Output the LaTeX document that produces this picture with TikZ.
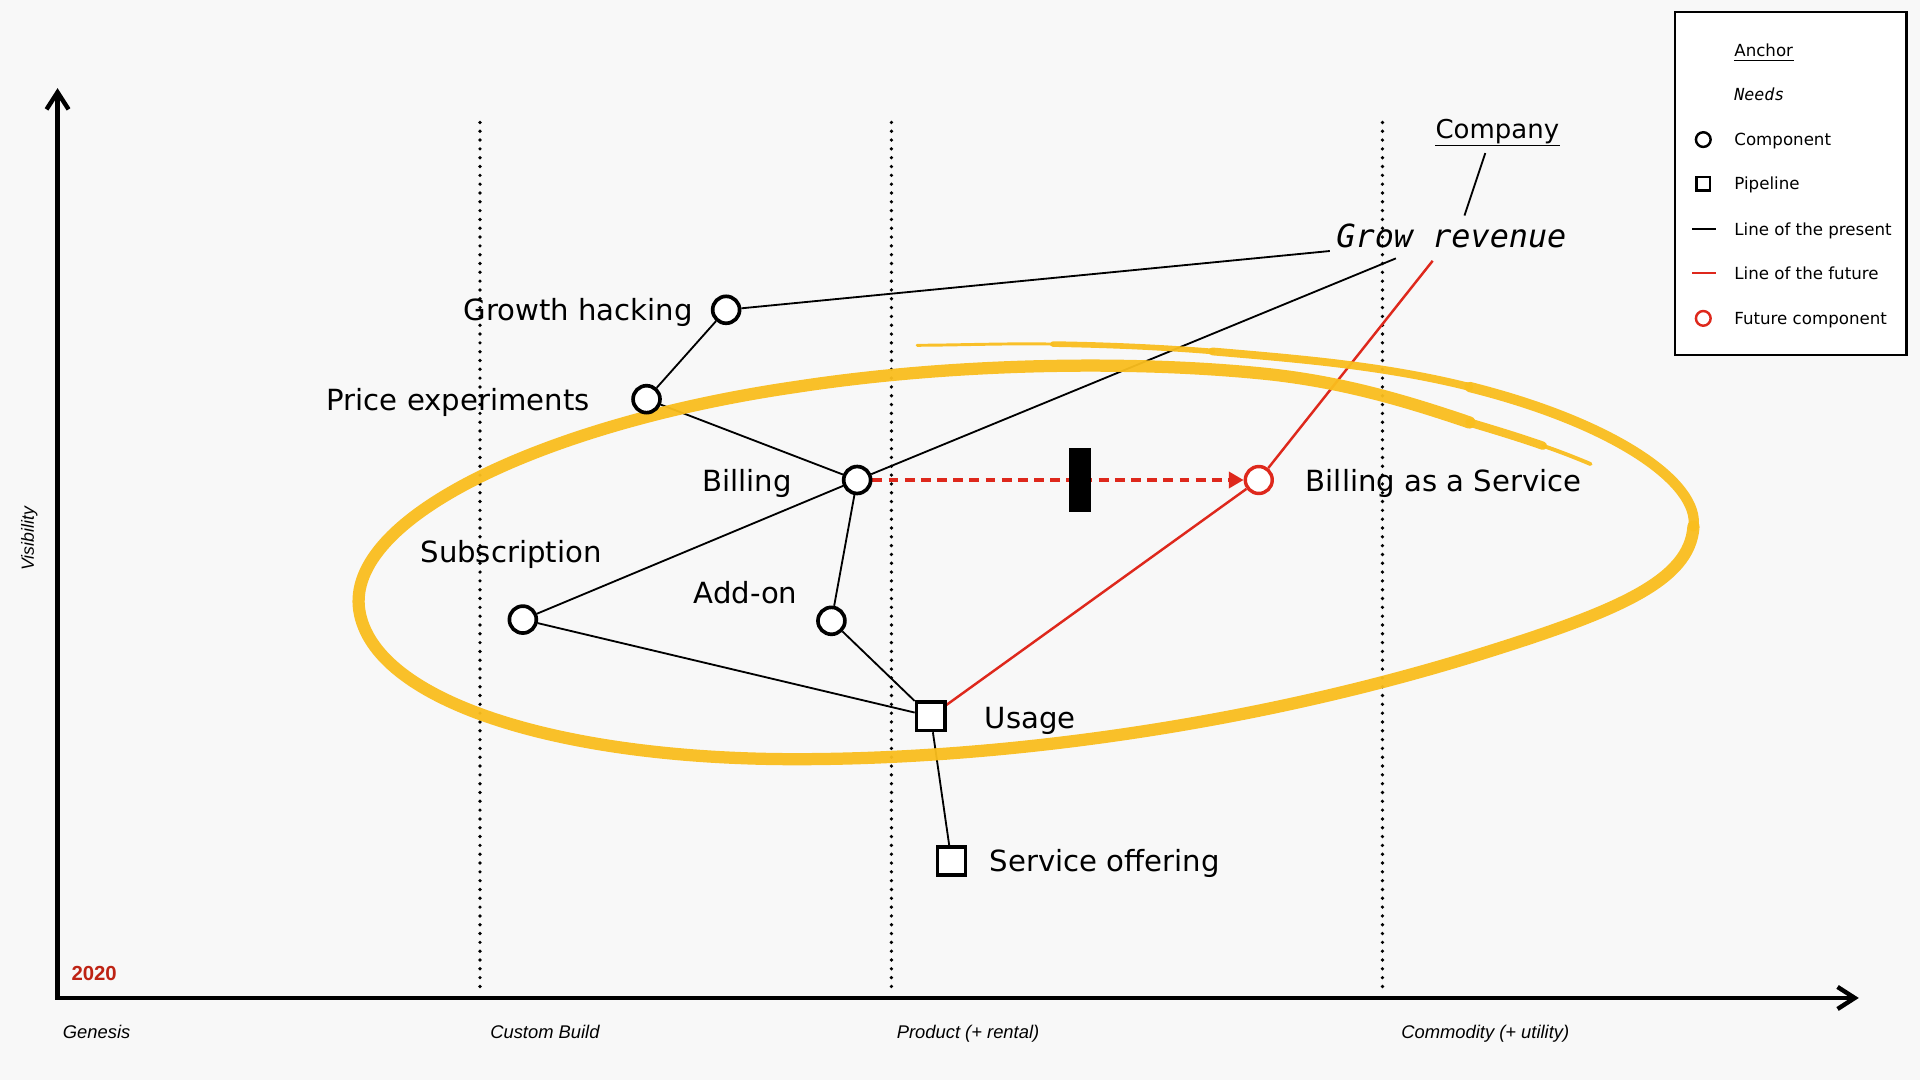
\documentclass[tikz,border=0pt]{standalone}
\usepackage{fontspec}
\setmainfont{DejaVu Sans}
\newfontfamily\axisfont{Liberation Sans}
\newfontfamily\needfont{DejaVu Sans Mono}
\usetikzlibrary{arrows.meta}
\definecolor{bgc}{RGB}{248,248,248}
\definecolor{wred}{RGB}{222,40,28}
\definecolor{wyel}{RGB}{250,190,30}
\definecolor{yred}{RGB}{190,35,20}
\pgfdeclarelayer{bglayer}
\pgfdeclarelayer{edgelayer}
\pgfdeclarelayer{hllayer}
\pgfsetlayers{bglayer,edgelayer,hllayer,main}
\begin{document}
\begin{tikzpicture}[x=0.5pt,y=-0.5pt,
  comp/.style={circle,draw,line width=1.5pt,fill=white,minimum size=11pt,inner sep=0pt},
  pipe/.style={rectangle,draw,line width=1.5pt,fill=white,minimum size=11.5pt,inner sep=0pt},
  fut/.style={circle,draw=wred,line width=1.4pt,fill=white,minimum size=11pt,inner sep=0pt},
  lblw/.style={font=\fontsize{11.9}{14}\selectfont,inner sep=0pt,anchor=base west},
  lble/.style={font=\fontsize{11.9}{14}\selectfont,inner sep=0pt,anchor=base east},
  link/.style={line width=0.75pt},
  flink/.style={line width=1pt,draw=wred},
  evo/.style={draw=wred,line width=2pt,dash pattern=on 4pt off 2.6pt,-{Triangle[length=6pt,width=6.5pt,fill=wred]}},
  legtxt/.style={font=\fontsize{6.8}{8}\selectfont,anchor=base west,inner sep=0pt},
  axlbl/.style={font=\axisfont\itshape\fontsize{7.5}{9}\selectfont,anchor=base west,inner sep=0pt},
  stage/.style={dash pattern=on 0pt off 3.6pt,line width=1.5pt,line cap=round},
  hl/.style={draw=wyel,line cap=round,line join=round,opacity=0.95}
]
% background
\begin{pgfonlayer}{bglayer}
\fill[bgc] (0,0) rectangle (1568,882);
\draw[stage] (392,100) -- (392,812);
\draw[stage] (728,100) -- (728,812);
\draw[stage] (1129,100) -- (1129,812);
\draw[line width=1.8pt,line join=miter,{Straight Barb[length=7pt,width=9pt]}-{Straight Barb[length=7pt,width=9pt]}] (47,72) -- (47,815) -- (1518,815);
\end{pgfonlayer}

% axis labels
\node[font=\axisfont\itshape\fontsize{7.2}{9}\selectfont,rotate=90,inner sep=0pt] (vis) at (24,440) {Visibility};
\node[axlbl] (ax1) at (51,848) {Genesis};
\node[axlbl] (ax2) at (400,848) {Custom Build};
\node[axlbl] (ax3) at (732,848) {Product (+ rental)};
\node[axlbl] (ax4) at (1144,848) {Commodity (+ utility)};
\node[font=\axisfont\bfseries\fontsize{8.3}{10}\selectfont,text=yred,anchor=base west,inner sep=0pt] (yr) at (58,801) {2020};

% anchor and need
\node[font=\fontsize{10.6}{12}\selectfont,anchor=base west,inner sep=0pt] (company) at (1172,113) {Company};
\draw[line width=0.6pt] ([yshift=-3pt]company.base west) -- ([yshift=-3pt]company.base east);
\node[font=\needfont\itshape\fontsize{13}{15}\selectfont,anchor=base west,inner sep=0pt] (grow) at (1091,202) {Grow revenue};
\coordinate (c1) at (1213,125);
\coordinate (c2) at (1196,176);
\coordinate (g1) at (1086,205);
\coordinate (g2) at (1140,211);
\coordinate (g3) at (1170,213);

% components
\node[comp] (gh) at (593,253) {};
\node[lble] (ghl) at (566,262) {Growth hacking};
\node[comp] (pe) at (528,326) {};
\node[lble] (pel) at (482,335) {Price experiments};
\node[comp] (bill) at (700,392) {};
\node[lblw] (billl) at (573,401) {Billing};
\node[comp] (sub) at (427,506) {};
\node[lblw] (subl) at (343,459) {Subscription};
\node[comp] (add) at (679,507) {};
\node[lblw] (addl) at (566,493) {Add-on};
\node[pipe] (use) at (760,585) {};
\node[lblw] (usel) at (804,595) {Usage};
\node[pipe] (svc) at (777,703) {};
\node[lblw] (svcl) at (808,712) {Service offering};
\node[fut] (baas) at (1028,392) {};
\node[lblw] (baasl) at (1066,401) {Billing as a Service};

% connectors
\begin{pgfonlayer}{edgelayer}
\draw[link] (c1) -- (c2);
\draw[link] (g1) -- (gh);
\draw[link] (g2) -- (bill);
\draw[flink] (g3) -- (baas);
\draw[link] (gh) -- (pe);
\draw[link] (pe) -- (bill);
\draw[link] (bill) -- (sub);
\draw[link] (bill) -- (add);
\draw[link] (sub) -- (use);
\draw[link] (add) -- (use);
\draw[link] (use) -- (svc);
\draw[flink] (use) -- (baas);
\draw[evo] (bill) -- (baas);
\fill (873,366) rectangle (891,418);
\end{pgfonlayer}

% highlight
\begin{pgfonlayer}{hllayer}
\draw[hl,line width=1.2pt] (749,282) .. controls (786,281.8) and (823,280.3) .. (860,281);
\draw[hl,line width=2.3pt] (860,281) .. controls (903,281.7) and (947,283.5) .. (990,287);
\draw[hl,line width=3.2pt] (990,287) .. controls (1060,293) and (1130,298.5) .. (1200,316);
\draw[hl,line width=4.2pt] (1200,316) .. controls (1320,346) and (1388,395) .. (1383,430);
\draw[hl,line width=5pt] (1383,430)
 .. controls (1380,475) and (1320,500) .. (1200,537)
 .. controls (1020,592) and (820,620) .. (650,620)
 .. controls (450,620) and (300,570) .. (293,495)
 .. controls (287,420) and (450,345) .. (650,316)
 .. controls (780,296) and (930,294) .. (1040,306)
 .. controls (1100,313) and (1150,328) .. (1200,345);
\draw[hl,line width=3.4pt] (1200,345) .. controls (1220,351) and (1240,357) .. (1260,364);
\draw[hl,line width=1.6pt] (1260,364) .. controls (1273,368.5) and (1286,373.5) .. (1299,379);
\end{pgfonlayer}

% legend
\begin{pgfonlayer}{bglayer}
\draw[line width=1pt,fill=white] (1368,10) rectangle (1557,290);
\end{pgfonlayer}
\node[legtxt] (la) at (1416,46) {Anchor};
\draw[line width=0.4pt] ([yshift=-1.6pt]la.base west) -- ([yshift=-1.6pt]la.base east);
\node[legtxt,font=\needfont\itshape\fontsize{6.8}{8}\selectfont] (ln) at (1416,82) {Needs};
\node[circle,draw,line width=1pt,fill=white,minimum size=6pt,inner sep=0pt] (lci) at (1391,114) {};
\node[legtxt] (lc) at (1416,119) {Component};
\node[rectangle,draw,line width=1pt,fill=white,minimum size=5.5pt,inner sep=0pt] (lsq) at (1391,150) {};
\node[legtxt] (lp) at (1416,155) {Pipeline};
\coordinate (lb1) at (1382,187);
\coordinate (lb2) at (1401,187);
\draw[line width=0.8pt] (lb1) -- (lb2);
\node[legtxt] (lpr) at (1416,192) {Line of the present};
\coordinate (lr1) at (1382,223);
\coordinate (lr2) at (1401,223);
\draw[line width=0.8pt,wred] (lr1) -- (lr2);
\node[legtxt] (lfu) at (1416,228) {Line of the future};
\node[circle,draw=wred,line width=1pt,fill=white,minimum size=6pt,inner sep=0pt] (lfc) at (1391,260) {};
\node[legtxt] (lfcl) at (1416,265) {Future component};
\end{tikzpicture}
\end{document}
